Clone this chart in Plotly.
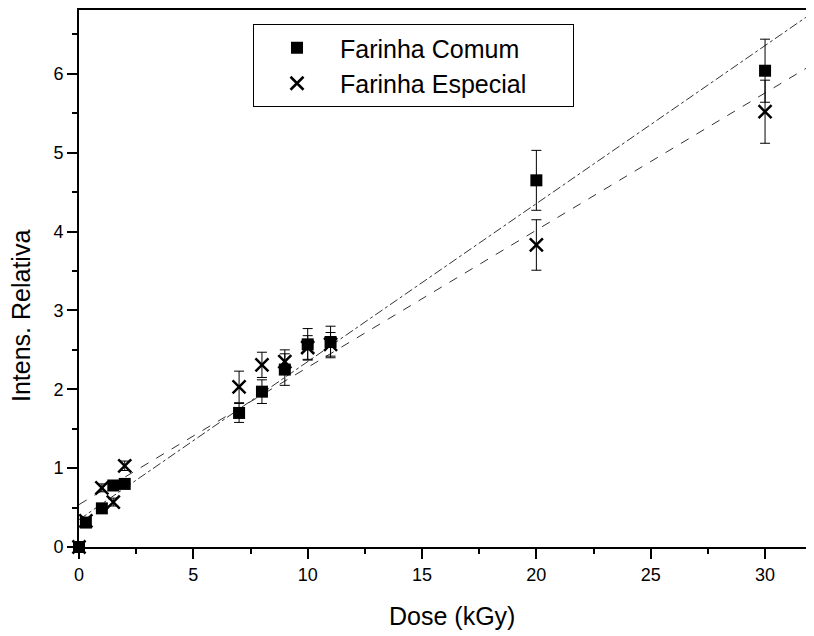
import numpy as np
import plotly.graph_objects as go

# ---- data ----
dose = [0, 0.3, 1.0, 1.5, 2.0, 7, 8, 9, 10, 11, 20, 30]
comum = [0.0, 0.31, 0.49, 0.78, 0.80, 1.70, 1.97, 2.25, 2.57, 2.60, 4.65, 6.04]
comum_err = [0.02, 0.03, 0.04, 0.05, 0.05, 0.12, 0.15, 0.20, 0.20, 0.20, 0.38, 0.40]
especial = [0.0, 0.33, 0.75, 0.57, 1.03, 2.03, 2.31, 2.35, 2.53, 2.57, 3.83, 5.52]
especial_err = [0.02, 0.03, 0.05, 0.05, 0.06, 0.20, 0.16, 0.15, 0.15, 0.15, 0.32, 0.40]
series_names = ["Farinha Comum", "Farinha Especial"]
x_ticks = [0, 5, 10, 15, 20, 25, 30]
y_ticks = [0, 1, 2, 3, 4, 5, 6]
x_range = [0, 32.14]
y_range = [0, 6.81]

FONT = "Liberation Sans, Arial, sans-serif"
PAD = "\u00a0" * 6  # widens the legend box to the reference's size

# linear fits of each series
fit_x = np.array([0.0, x_range[1]])
pc = np.polyfit(dose, comum, 1)
pe = np.polyfit(dose, especial, 1)

fig = go.Figure()

fig.add_trace(go.Scatter(
    x=fit_x, y=np.polyval(pc, fit_x), mode="lines",
    line=dict(color="#333333", width=1, dash="dashdot"),
    showlegend=False, hoverinfo="skip"))
fig.add_trace(go.Scatter(
    x=fit_x, y=np.polyval(pe, fit_x), mode="lines",
    line=dict(color="#333333", width=1, dash="dash"),
    showlegend=False, hoverinfo="skip"))

fig.add_trace(go.Scatter(
    x=dose, y=comum, mode="markers", name=series_names[0] + PAD,
    marker=dict(symbol="square", size=12, color="black"),
    error_y=dict(type="data", array=comum_err, color="black", thickness=1, width=5),
    cliponaxis=False))
fig.add_trace(go.Scatter(
    x=dose, y=especial, mode="markers", name=series_names[1] + PAD,
    marker=dict(symbol="x-thin", size=13, color="black",
                line=dict(color="black", width=2.5)),
    error_y=dict(type="data", array=especial_err, color="black", thickness=1, width=5),
    cliponaxis=False))

axis_common = dict(
    showgrid=False, zeroline=False, showline=True, linecolor="black", linewidth=2,
    ticks="outside", ticklen=10, tickwidth=1.5, tickcolor="black",
    tickfont=dict(family=FONT, size=18, color="black"),
)

fig.update_xaxes(
    range=x_range, tickvals=x_ticks, mirror=True,
    minor=dict(dtick=2.5, tick0=0, ticks="outside", ticklen=5, tickwidth=1.5, tickcolor="black"),
    **axis_common)
fig.update_yaxes(
    range=y_range, tickvals=y_ticks, mirror=False,
    minor=dict(dtick=0.5, tick0=0, ticks="outside", ticklen=5, tickwidth=1.5, tickcolor="black"),
    **axis_common)

# page has an 8px body margin; figure is sized so the plot area lands where the reference has it
W, H = 806, 628
ML, MR, MT, MB = 71, 0, 2, 89
pw = W - ML - MR
ph = H - MT - MB


def px_to_paper(px, py):
    return (px - 8 - ML) / pw, 1 - (py - 8 - MT) / ph


xt = px_to_paper(452, 616)
fig.add_annotation(
    text="Dose (kGy)", xref="paper", yref="paper", x=xt[0], y=xt[1],
    xanchor="center", yanchor="middle", showarrow=False,
    font=dict(family=FONT, size=25, color="black"))
yt = px_to_paper(21, 316)
fig.add_annotation(
    text="Intens. Relativa", xref="paper", yref="paper", x=yt[0], y=yt[1],
    xanchor="center", yanchor="middle", showarrow=False, textangle=-90,
    font=dict(family=FONT, size=25, color="black"))

lg = px_to_paper(253, 24)
fig.update_layout(
    width=W, height=H,
    margin=dict(l=ML, r=MR, t=MT, b=MB),
    paper_bgcolor="white", plot_bgcolor="white",
    font=dict(family=FONT, color="black"),
    legend=dict(
        x=lg[0], y=lg[1], xanchor="left", yanchor="top",
        bordercolor="black", borderwidth=1, bgcolor="white",
        font=dict(family=FONT, size=25, color="black"),
        itemwidth=76, tracegroupgap=0),
)

fig.write_html("out.html")
